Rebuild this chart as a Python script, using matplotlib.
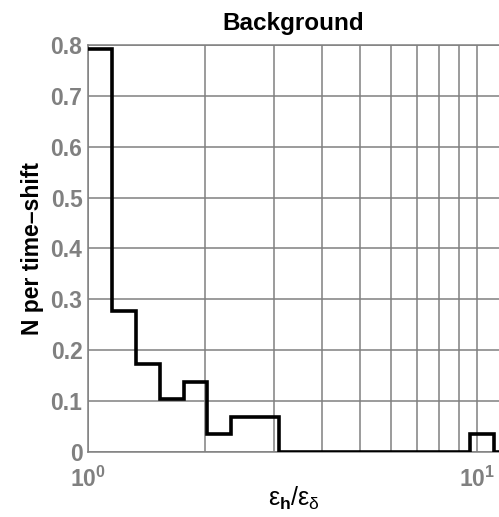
import matplotlib
matplotlib.use("Agg")
import matplotlib.pyplot as plt

plt.rcParams['font.family'] = ['Liberation Sans', 'DejaVu Sans']
plt.rcParams['mathtext.fontset'] = 'custom'
plt.rcParams['mathtext.rm'] = 'Liberation Sans'
plt.rcParams['mathtext.it'] = 'Liberation Sans'
plt.rcParams['mathtext.bf'] = 'Liberation Sans:bold'

# bin edges of eps_h/eps_delta (log spaced) and N per time-shift in each bin
edges = [1.0, 1.152, 1.327, 1.528, 1.761, 2.028, 2.336, 2.691, 3.100, 3.571,
         4.113, 4.738, 5.458, 6.287, 7.242, 8.343, 9.610, 11.07, 12.75]
n_per_shift = [0.793, 0.276, 0.172, 0.103, 0.138, 0.0345, 0.069, 0.069,
               0, 0, 0, 0, 0, 0, 0, 0, 0.0345, 0]

yticks = [0, 0.1, 0.2, 0.3, 0.4, 0.5, 0.6, 0.7, 0.8]
ytick_labels = ['0', '0.1', '0.2', '0.3', '0.4', '0.5', '0.6', '0.7', '0.8']
xticks = [1, 10]
xtick_labels = [r'$\mathbf{10^{0}}$', r'$\mathbf{10^{1}}$']

grey = '#808080'

fig = plt.figure(figsize=(4.99, 5.17), dpi=100)
ax = fig.add_axes([0.1764, 0.1263, 0.8236, 0.7867])

ax.stairs(n_per_shift, edges, baseline=None, color='k', linewidth=2.6, zorder=3)

ax.set_xscale('log')
ax.set_xlim(1, 11.4)
ax.set_ylim(0, 0.8)
ax.set_xticks(xticks)
ax.set_xticklabels(xtick_labels)
ax.set_yticks(yticks)
ax.set_yticklabels(ytick_labels, fontweight='bold')
ax.tick_params(axis='both', which='both', length=0, colors=grey, labelsize=16.5)
ax.tick_params(axis='x', pad=11)
ax.tick_params(axis='y', pad=4)

ax.grid(True, which='both', axis='x', color=grey, linewidth=1.1)
ax.grid(True, which='major', axis='y', color=grey, linewidth=1.1)
for side in ['left', 'bottom', 'top']:
    ax.spines[side].set_color(grey)
    ax.spines[side].set_linewidth(1.1)
ax.spines['right'].set_visible(False)

ax.set_title('Background', fontsize=17.5, fontweight='bold', pad=11)
ax.set_ylabel('N per time\u2013shift', fontsize=16.5, fontweight='bold', labelpad=5)
ax.set_xlabel(r'$\varepsilon_{\mathbf{h}}/\varepsilon_{\delta}$', fontsize=18)
ax.xaxis.set_label_coords(0.5, -0.082)

fig.savefig('out.png', dpi=100)
